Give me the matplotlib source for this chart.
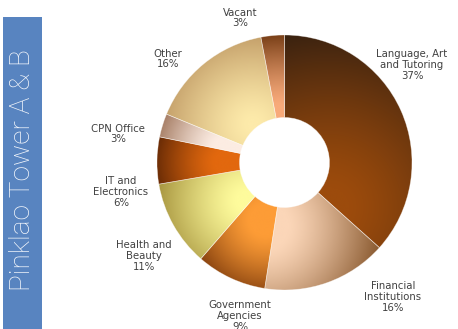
import numpy as np
import matplotlib
matplotlib.use("Agg")
import matplotlib.pyplot as plt
from matplotlib.colors import LinearSegmentedColormap

# ---- data ----
categories = ["Language, Art\nand Tutoring", "Financial\nInstitutions", "Government\nAgencies",
              "Health and\nBeauty", "IT and\nElectronics", "CPN Office", "Other", "Vacant"]
values = [37, 16, 9, 11, 6, 3, 16, 3]
pct_labels = ["37%", "16%", "9%", "11%", "6%", "3%", "16%", "3%"]
title_text = "Pinklao Tower A & B"

# shading: (light colour, dark colour, light-spot x, light-spot y) in pie units
shade = [
    ("#9c4b0c", "#3a2210", 0.35, -0.35),
    ("#fbd6b8", "#8a5a30", -0.15, -0.5),
    ("#fd9c36", "#8a4410", -0.15, -0.45),
    ("#fefb9c", "#a89640", -0.3, -0.3),
    ("#e2680e", "#6a2c06", -0.45, 0.0),
    ("#fcece2", "#a88068", -0.45, 0.1),
    ("#fdeaaa", "#c6a26c", -0.25, 0.3),
    ("#f8aa7a", "#7a4018", -0.05, 0.4),
]

# label positions in pixel coords (x, y of text centre)
label_pos = [(412, 65), (393, 297), (240, 316), (144, 256), (121, 192), (118, 134), (168, 59), (240, 18)]

W, H = 458, 329
fig = plt.figure(figsize=(W / 100, H / 100), dpi=100)

# left title band
band = fig.add_axes([3 / W, 0, 39 / W, (H - 17) / H])
band.set_axis_off()
band.add_patch(plt.Rectangle((0, 0), 1, 1, transform=band.transAxes, color="#5884c0", zorder=0))
band.text(0.5, 0.51, title_text, rotation=90, ha="center", va="center", color="#f4f7fc",
          fontsize=20.2, family="Roboto", fontweight="light", transform=band.transAxes,
          zorder=5)

# donut
cx, cy, R = 284.5, 162.5, 127.5
ax = fig.add_axes([(cx - R) / W, (H - cy - R) / H, 2 * R / W, 2 * R / H])
wedges, _ = ax.pie(values, startangle=90, counterclock=False, radius=1,
                   wedgeprops=dict(width=0.647, edgecolor=(1, 1, 1, 0.45), linewidth=0.5))

n = 300
xs = np.linspace(-1, 1, n)
X, Y = np.meshgrid(xs, xs[::-1])
for w, (c1, c2, lx, ly) in zip(wedges, shade):
    w.set_facecolor("none")
    w.set_zorder(3)
    verts = w.get_path().vertices
    dv = np.hypot(verts[:, 0] - lx, verts[:, 1] - ly)
    D = np.hypot(X - lx, Y - ly)
    Z = (D - dv.min()) / (dv.max() - dv.min() + 1e-9)
    cmap = LinearSegmentedColormap.from_list("g", [c1, c2])
    im = ax.imshow(np.clip(Z, 0, 1) ** 1.3, cmap=cmap, extent=[-1, 1, -1, 1], vmin=0, vmax=1,
                   interpolation="bilinear", zorder=1)
    im.set_clip_path(w)
ax.set_xlim(-1, 1)
ax.set_ylim(-1, 1)
ax.set_axis_off()

# labels
lab = fig.add_axes([0, 0, 1, 1])
lab.set_xlim(0, W)
lab.set_ylim(H, 0)
lab.set_axis_off()
lab.patch.set_alpha(0)
for (x, y), c, p in zip(label_pos, categories, pct_labels):
    lab.text(x, y, c + "\n" + p, ha="center", va="center", fontsize=7.3, color="#404040",
             family="DejaVu Sans", linespacing=1.1)

fig.savefig("out.png", dpi=100)
